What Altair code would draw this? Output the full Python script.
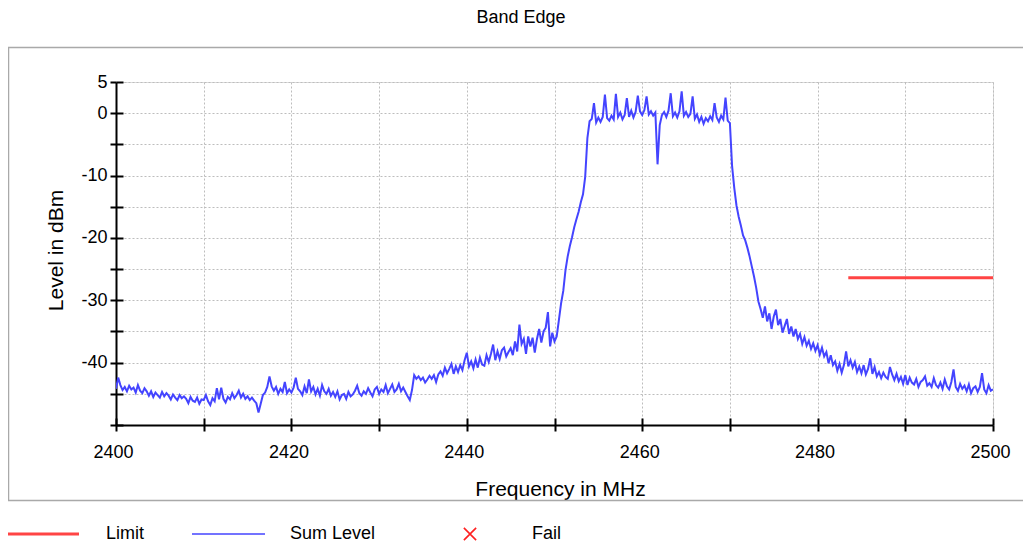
import altair as alt
import pandas as pd

# ---------------- data ----------------
FREQ_START = 2400.0   # MHz, first sweep point
FREQ_STEP = 0.25      # MHz between sweep points

# Sum Level trace, dBm, 4 points per MHz
low_band = [
    -44.2, -42.4, -43.6, -44.4,  # 2400
    -43.9, -44.6, -43.7, -44.3,  # 2401
    -44.0, -44.8, -43.6, -44.5,  # 2402
    -44.9, -44.1, -44.6, -45.3,  # 2403
    -44.6, -45.5, -44.8, -45.2,  # 2404
    -45.6, -44.7, -45.4, -44.9,  # 2405
    -45.3, -45.9, -45.1, -45.6,  # 2406
    -46.0, -45.2, -45.7, -45.4,  # 2407
    -45.8, -46.5, -45.5, -46.1,  # 2408
    -46.3, -45.6, -46.6, -45.9,  # 2409
    -46.0, -45.2, -46.2, -46.8,  # 2410
    -45.7, -46.2, -44.1, -45.9,  # 2411
    -44.0, -45.8, -46.4, -45.5,  # 2412
    -45.9, -44.9, -45.7, -45.2,  # 2413
    -44.5, -45.6, -45.0, -45.8,  # 2414
    -45.4, -46.0, -45.6, -46.1,  # 2415
    -46.5, -48.0, -46.6, -45.2,  # 2416
    -44.8, -43.9, -42.2, -43.8,  # 2417
    -44.5, -43.9, -45.0, -44.2,  # 2418
    -44.7, -43.1, -44.9, -44.3,  # 2419
    -44.8, -44.0, -42.4, -44.2,  # 2420
    -44.6, -45.2, -43.8, -44.9,  # 2421
    -42.7, -44.6, -43.9, -45.1,  # 2422
    -44.2, -45.3, -43.6, -44.6,  # 2423
    -45.0, -44.2, -45.3, -44.7,  # 2424
    -45.5, -44.6, -45.9, -45.2,  # 2425
    -45.0, -45.8, -44.7, -45.4,  # 2426
    -45.1, -44.5, -43.7, -44.9,  # 2427
    -45.3, -44.6, -45.0, -44.1,  # 2428
    -44.8, -45.4, -44.3, -43.9,  # 2429
    -45.0, -44.3, -44.7, -43.6,  # 2430
    -44.9, -44.2, -43.5, -44.7,  # 2431
    -44.3, -43.4, -44.6, -44.0,  # 2432
    -44.7, -45.4, -46.0, -44.4,  # 2433
]
rising_edge = [
    -42.0, -42.6, -42.2, -42.8,  # 2434
    -42.4, -43.2, -42.7, -42.1,  # 2435
    -42.6, -42.0, -43.1, -41.9,  # 2436
    -41.4, -42.1, -40.8, -41.7,  # 2437
    -41.0, -40.2, -41.8, -40.6,  # 2438
    -41.5, -40.4, -41.2, -39.6,  # 2439
    -38.4, -40.6, -39.8, -40.9,  # 2440
    -39.5, -40.8, -39.2, -40.3,  # 2441
    -40.5, -38.8, -39.9, -38.6,  # 2442
    -37.1, -39.6, -38.2, -39.4,  # 2443
    -38.0, -37.6, -39.0, -38.3,  # 2444
    -37.7, -38.8, -36.6, -38.2,  # 2445
    -33.9, -37.0, -36.2, -38.6,  # 2446
    -35.8, -37.4, -36.0, -38.4,  # 2447
    -36.2, -34.6, -36.8, -35.0,  # 2448
    -34.4, -31.9, -37.4, -35.2,  # 2449
    -36.6, -35.8, -33.2, -30.5,  # 2450
    -28.5, -25.2, -23.0, -21.3,  # 2451
    -19.9, -18.3, -17.0, -15.8,  # 2452
    -14.3, -13.0, -10.2, -4.0,   # 2453
]
channel = [
    -1.3, -0.9, 1.6, -1.5,   # 2454
    -0.7, -1.4, -0.6, 3.0,   # 2455
    -0.8, -1.2, -0.4, -1.0,  # 2456
    3.1, -0.6, 0.1, -1.0,    # 2457
    -0.3, 2.4, -0.6, 0.4,    # 2458
    -0.7, 0.2, 2.8, 0.3,     # 2459
    -0.3, 0.5, 2.7, -0.2,    # 2460
    0.3, -0.4, 0.1, -8.2,    # 2461
    -1.9, -0.3, 0.2, -0.6,   # 2462
    0.4, 3.2, -0.5, 0.1,     # 2463
    -0.7, 0.3, 3.5, -0.4,    # 2464
    0.2, -0.6, -0.1, 2.7,    # 2465
    -0.9, -0.2, -1.4, -0.6,  # 2466
    -1.7, -0.8, -1.3, -0.5,  # 2467
    -1.1, 1.6, -0.7, -1.4,   # 2468
    -0.4, -1.0, 2.5, -1.2,   # 2469
]
falling_edge = [
    -1.6, -8.5, -12.0, -14.8,    # 2470
    -16.6, -18.0, -19.6, -20.4,  # 2471
    -21.6, -23.0, -24.6, -26.2,  # 2472
    -28.0, -30.2, -31.4, -32.8,  # 2473
    -31.0, -33.4, -32.1, -34.6,  # 2474
    -32.6, -31.5, -34.0, -33.0,  # 2475
    -35.2, -34.1, -33.0, -35.4,  # 2476
    -34.2, -35.8, -34.6, -36.2,  # 2477
    -35.4, -37.0, -35.9, -37.3,  # 2478
    -36.5, -37.8, -36.9, -38.1,  # 2479
    -37.2, -38.7, -37.6, -39.0,  # 2480
    -38.3, -40.1, -38.8, -40.4,  # 2481
    -39.8, -41.3, -40.2, -41.6,  # 2482
    -40.4, -38.2, -40.6, -39.6,  # 2483
    -40.8, -39.9, -41.5, -40.6,  # 2484
    -41.7, -40.4, -41.9, -41.0,  # 2485
    -39.3, -41.8, -40.7, -42.2,  # 2486
    -41.5, -42.5, -41.6, -42.3,  # 2487
    -42.6, -40.7, -41.9, -42.8,  # 2488
    -41.8, -43.0, -42.3, -43.4,  # 2489
    -42.0, -43.6, -42.4, -43.2,  # 2490
    -43.5, -42.6, -43.9, -43.1,  # 2491
    -42.8, -42.2, -43.7, -43.3,  # 2492
    -43.9, -42.5, -43.6, -44.0,  # 2493
    -43.2, -44.2, -42.7, -43.8,  # 2494
    -44.3, -43.1, -41.1, -43.9,  # 2495
    -44.5, -43.4, -44.2, -43.7,  # 2496
    -44.6, -43.5, -44.9, -44.1,  # 2497
    -43.8, -44.7, -43.9, -41.7,  # 2498
    -44.3, -44.9, -43.6, -44.5,  # 2499
    -44.3,                       # 2500
]

limit_freq = [2483.5, 2500.0]
limit_level = [-26.4, -26.4]

x_ticks = [2400, 2410, 2420, 2430, 2440, 2450, 2460, 2470, 2480, 2490, 2500]
y_ticks = [5, 0, -5, -10, -15, -20, -25, -30, -35, -40, -45, -50]
legend_labels = ["Limit", "Sum Level", "Fail"]
chart_title = "Band Edge"

# ---------------- tables ----------------
levels = low_band + rising_edge + channel + falling_edge
trace = pd.DataFrame({
    "freq": [FREQ_START + i * FREQ_STEP for i in range(len(levels))],
    "level": levels,
})
limit = pd.DataFrame({"freq": limit_freq, "level": limit_level})
one = pd.DataFrame({"k": [0]})

FONT = "Liberation Sans"
BLUE = "#4444FF"
RED = "#FF4444"

xs = alt.Scale(domain=[2400, 2500], nice=False, zero=False)
ys = alt.Scale(domain=[-50, 5], nice=False, zero=False)

x_axis = alt.Axis(
    values=x_ticks,
    labelExpr="datum.value % 20 == 0 ? toString(datum.value) : ''",
    labelFlush=False, labelOverlap=False,
    grid=True, gridDash=[2, 2], gridColor="#bdbdbd", gridWidth=1,
    domainColor="black", domainWidth=2, tickColor="black", tickWidth=2, tickSize=6,
    labelFont=FONT, labelFontSize=18, labelColor="black", labelPadding=12, labelOffset=-3,
    title="Frequency in MHz", titleFont=FONT, titleFontSize=21, titleFontWeight="normal",
    titleColor="black", titleX=444, titleY=70, titleAlign="center", titleBaseline="alphabetic",
)
y_axis = alt.Axis(
    values=y_ticks,
    labelExpr="(datum.value == 5 || (datum.value % 10 == 0 && datum.value > -50)) ? toString(datum.value) : ''",
    labelFlush=False, labelOverlap=False,
    grid=True, gridDash=[2, 2], gridColor="#bdbdbd", gridWidth=1,
    domainColor="black", domainWidth=2, tickColor="black", tickWidth=2, tickSize=6,
    labelFont=FONT, labelFontSize=18, labelColor="black", labelPadding=3,
    title="Level in dBm", titleFont=FONT, titleFontSize=21, titleFontWeight="normal",
    titleColor="black", titleX=-54, titleY=168, titleAngle=270, titleAlign="center",
    titleBaseline="alphabetic",
)
# inner halves of the ticks (the ticks cross the axis lines)
x_axis_in = alt.Axis(values=x_ticks, orient="bottom", offset=-7, domain=False, labels=False,
                     grid=False, tickColor="black", tickWidth=2, tickSize=7, title=None)
y_axis_in = alt.Axis(values=y_ticks, orient="left", offset=-7, domain=False, labels=False,
                     grid=False, tickColor="black", tickWidth=2, tickSize=7, title=None)

frame_box = alt.Chart(one).mark_rect(
    fillOpacity=0, stroke="#a9a9a9", strokeWidth=1.5
).encode(x=alt.value(-107.5), x2=alt.value(940), y=alt.value(-34.5), y2=alt.value(418.5))

title_text = alt.Chart(one).mark_text(
    text=chart_title, font=FONT, fontSize=18, color="black", align="center", baseline="alphabetic"
).encode(x=alt.value(405), y=alt.value(-59.5))

trace_line = alt.Chart(trace).mark_line(color=BLUE, strokeWidth=2, clip=True).encode(
    x=alt.X("freq:Q", scale=xs, axis=x_axis),
    y=alt.Y("level:Q", scale=ys, axis=y_axis),
)
limit_line = alt.Chart(limit).mark_line(color=RED, strokeWidth=3).encode(
    x=alt.X("freq:Q", scale=xs, axis=x_axis_in),
    y=alt.Y("level:Q", scale=ys, axis=y_axis_in),
)

LEG_Y = 452
leg_limit = alt.Chart(one).mark_rule(color=RED, strokeWidth=3).encode(
    x=alt.value(-108), x2=alt.value(-37), y=alt.value(LEG_Y))
leg_sum = alt.Chart(one).mark_rule(color=BLUE, strokeWidth=1.5).encode(
    x=alt.value(76), x2=alt.value(149), y=alt.value(LEG_Y))
leg_fail = alt.Chart(one).mark_point(
    shape="M-1,-1L1,1M1,-1L-1,1", filled=False, color="#FF2020", strokeWidth=1.6, size=150, opacity=1
).encode(x=alt.value(354), y=alt.value(LEG_Y))

def leg_text(label, xpos):
    return alt.Chart(one).mark_text(
        text=label, font=FONT, fontSize=18, color="black", align="left", baseline="middle"
    ).encode(x=alt.value(xpos), y=alt.value(LEG_Y))

chart = alt.layer(
    frame_box, title_text, trace_line, limit_line,
    leg_limit, leg_sum, leg_fail,
    leg_text(legend_labels[0], -10),
    leg_text(legend_labels[1], 174),
    leg_text(legend_labels[2], 416),
).resolve_axis(x="independent", y="independent").properties(
    width=877, height=343,
    autosize=alt.AutoSizeParams(type="none"),
    padding={"left": 108, "top": 74, "right": 30, "bottom": 123},
).configure_view(stroke=None).configure(background="white")

chart.save("out.html", embed_options={"renderer": "svg", "actions": False})
